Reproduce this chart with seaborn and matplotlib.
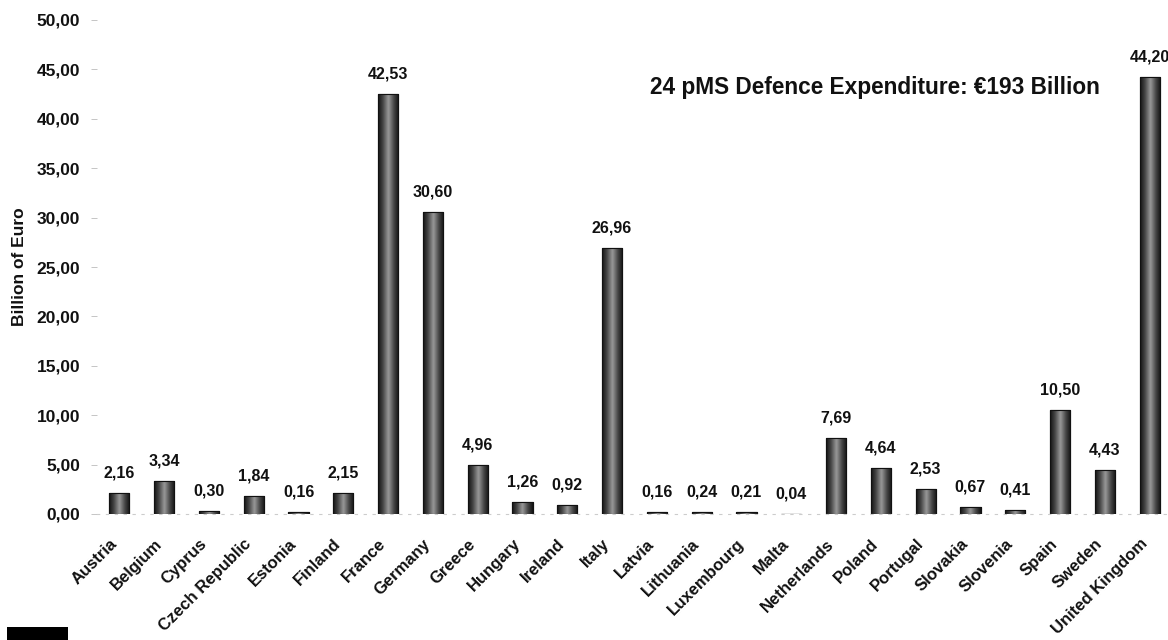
import numpy as np
import pandas as pd
import matplotlib
matplotlib.use("Agg")
import matplotlib.pyplot as plt
import seaborn as sns
from matplotlib.colors import LinearSegmentedColormap
from matplotlib.patches import Rectangle

countries = ["Austria", "Belgium", "Cyprus", "Czech Republic", "Estonia", "Finland",
             "France", "Germany", "Greece", "Hungary", "Ireland", "Italy", "Latvia",
             "Lithuania", "Luxembourg", "Malta", "Netherlands", "Poland", "Portugal",
             "Slovakia", "Slovenia", "Spain", "Sweden", "United Kingdom"]
values = [2.16, 3.34, 0.30, 1.84, 0.16, 2.15, 42.53, 30.60, 4.96, 1.26, 0.92, 26.96,
          0.16, 0.24, 0.21, 0.04, 7.69, 4.64, 2.53, 0.67, 0.41, 10.50, 4.43, 44.20]
yticks = [0, 5, 10, 15, 20, 25, 30, 35, 40, 45, 50]
title_text = "24 pMS Defence Expenditure: \u20ac193 Billion"
ylabel_text = "Billion of Euro"

df = pd.DataFrame({"country": countries, "value": values})

sns.set_theme(style="white")
plt.rcParams["font.family"] = ["Liberation Sans", "DejaVu Sans"]
plt.rcParams["font.weight"] = "bold"

fig = plt.figure(figsize=(11.68, 6.4), dpi=100)
ax = fig.add_axes([97 / 1168, 126 / 640, (1172 - 97) / 1168, 494 / 640])

sns.barplot(data=df, x="country", y="value", color="#3a3a3a", width=0.45,
            edgecolor="#111111", linewidth=0.8, ax=ax, saturation=1)

cmap = LinearSegmentedColormap.from_list("cyl", ["#121212", "#4a4a4a", "#9a9a9a", "#4a4a4a", "#121212"])
grad = np.linspace(0, 1, 64).reshape(1, -1)
for p in list(ax.patches):
    x0, y0 = p.get_x(), p.get_y()
    w, h = p.get_width(), p.get_height()
    im = ax.imshow(grad, cmap=cmap, aspect="auto", extent=[x0, x0 + w, y0, y0 + h],
                   zorder=p.get_zorder() + 0.1, interpolation="bicubic")
    im.set_clip_path(p)
    r = Rectangle((x0, y0), w, h, fill=False, edgecolor="#111111", linewidth=0.8,
                  zorder=p.get_zorder() + 0.2)
    ax.add_patch(r)

for i, v in enumerate(values):
    ax.annotate(f"{v:.2f}".replace(".", ","), xy=(i, v), xytext=(0, 9),
                textcoords="offset points", ha="center", va="bottom",
                fontsize=11.5, fontweight="bold", color="#111111")

ax.set_xlim(-0.5, len(countries) - 0.5)
ax.set_ylim(0, 50)
ax.set_yticks(yticks)
ax.set_yticklabels([f"{t:.2f}".replace(".", ",") for t in yticks],
                   fontsize=12.5, fontweight="bold", color="#111111")
ax.set_xticks(range(len(countries)))
ax.set_xticklabels([""] * len(countries))
for i, name in enumerate(countries):
    ax.annotate(name, xy=(i, 0), xycoords=("data", "axes fraction"),
                xytext=(-7.2, -16), textcoords="offset points",
                rotation=45, ha="right", va="top", rotation_mode="anchor",
                fontsize=12, fontweight="bold", color="#111111", annotation_clip=False)
ax.tick_params(axis="y", length=4, width=0.6, color="#bbbbbb", pad=8, left=True)
ax.tick_params(axis="x", length=0, pad=6)
ax.set_xlabel("")
ax.set_ylabel(ylabel_text, fontsize=12.5, fontweight="bold", color="#111111", labelpad=7)

for s in ["top", "right", "left"]:
    ax.spines[s].set_visible(False)
ax.spines["bottom"].set_color("#cccccc")
ax.spines["bottom"].set_linestyle((0, (2, 6)))
ax.spines["bottom"].set_linewidth(0.8)

ax.text(0.724, 0.864, title_text, transform=ax.transAxes, ha="center", va="center",
        fontsize=16.3, fontweight="bold", color="#111111")

fig.patches.append(Rectangle((7 / 1168, 0), 61 / 1168, 13 / 640, transform=fig.transFigure,
                             facecolor="black", edgecolor="none", figure=fig))

fig.savefig("out.png", dpi=100)
